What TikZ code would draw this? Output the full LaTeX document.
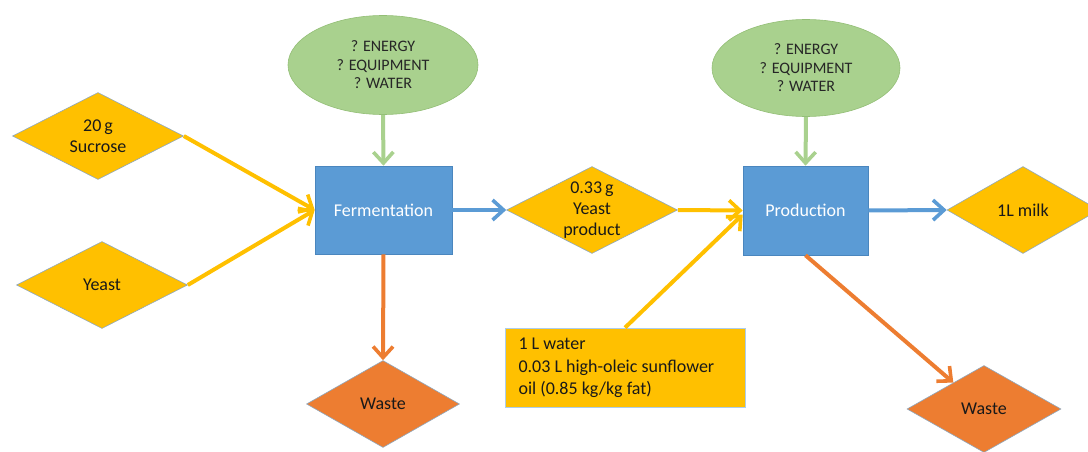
\documentclass[tikz,border=0pt]{standalone}
\usepackage{fontspec}
\setmainfont{Carlito}
\usetikzlibrary{shapes.geometric,arrows.meta,calc}
\definecolor{cyel}{HTML}{FFC000}
\definecolor{cblue}{HTML}{5B9BD5}
\definecolor{cblueb}{HTML}{4A86BE}
\definecolor{corg}{HTML}{ED7D31}
\definecolor{cgrn}{HTML}{A9D18E}
\definecolor{cgrnb}{HTML}{93BE76}
\definecolor{cedge}{HTML}{8FA8BF}
\begin{document}
\begin{tikzpicture}[x=1pt,y=-1pt,
  dia/.style={diamond, draw=cedge, line width=0.6pt, inner sep=0pt, minimum width=#1, minimum height=87pt, aspect=1.9},
  dia/.default=171pt,
  ytxt/.style={align=center, font=\fontsize{18}{21}\selectfont, text=black!90},
  proc/.style={rectangle, fill=cblue, draw=cblueb, line width=0.6pt, inner sep=0pt, text=white, font=\fontsize{18}{21}\selectfont},
  ell/.style={ellipse, fill=cgrn, draw=cgrnb, line width=0.6pt, inner sep=0pt, minimum width=190pt, minimum height=99pt, align=center, font=\fontsize{16}{18.5}\selectfont, text=black!85},
  arr/.style={line width=4pt, -{Straight Barb[length=11pt, width=20pt, line width=3.6pt]}},
]
\useasboundingbox (0,0) rectangle (1088,452);

% input diamonds
\node[dia, fill=cyel, label={[ytxt]center:{20\,g\\Sucrose}}] (suc) at (98,136) {};
\node[dia, fill=cyel, label={[ytxt]center:{Yeast}}] (yst) at (102,285) {};

% fermentation
\node[ell] (e1) at (383,65) {? ENERGY\\? EQUIPMENT\\? WATER};
\node[proc, minimum width=137pt, minimum height=88pt] (ferm) at (383.5,210) {Fermentation};
\node[dia=153pt, fill=corg, label={[ytxt]center:{Waste}}] (w1) at (383,404) {};

% yeast product
\node[dia, fill=cyel, label={[ytxt]center:{0.33\,g\\Yeast\\product}}] (yp) at (592,210) {};

% production
\node[ell, minimum width=188pt, minimum height=97pt] (e2) at (806,68) {? ENERGY\\? EQUIPMENT\\? WATER};
\node[proc, minimum width=125pt, minimum height=89pt] (prod) at (805.5,210.5) {Production};
\node[dia=152pt, fill=cyel, label={[ytxt]center:{1L milk}}] (milk) at (1023,210) {};
\node[dia=154pt, fill=corg, label={[ytxt]center:{Waste}}] (w2) at (984,409) {};

% info box
\node[rectangle, fill=cyel, draw=cblue!50, line width=0.6pt, minimum width=240pt, minimum height=79pt, inner sep=0pt] (info) at (625,367.5) {};
\node[anchor=west, align=left, font=\fontsize{18}{22.5}\selectfont, text=black!90] (infot) at (515,368) {1 L water\\0.03 L high-oleic sunflower\\oil (0.85 kg/kg fat)};

% connectors
\draw[arr, cyel] (suc.east) -- (ferm.west);
\draw[arr, cyel] (yst.east) -- (ferm.west);
\draw[arr, cgrn] (e1.south) -- (ferm.north);
\draw[arr, cblue] (ferm.east) -- (yp.west);
\draw[arr, corg] (ferm.south) -- (w1.north);
\draw[arr, cyel] (yp.east) -- (prod.west);
\draw[arr, cyel] (info.north) -- ($(prod.west)+(0,4)$);
\draw[arr, cgrn] (e2.south) -- (prod.north);
\draw[arr, cblue] (prod.east) -- (milk.west);
\draw[arr, corg] (prod.south) -- (w2);
\end{tikzpicture}
\end{document}
